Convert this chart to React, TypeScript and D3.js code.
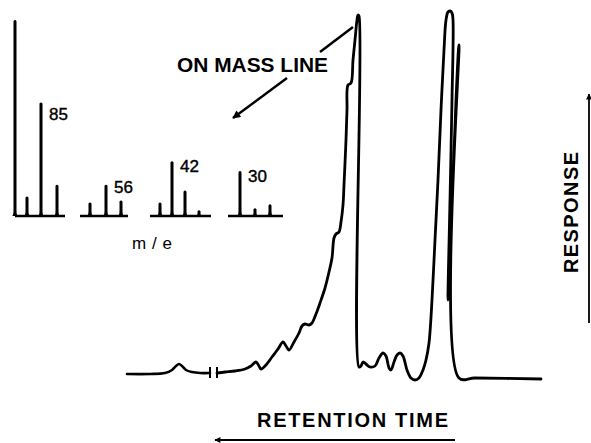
import React from 'react';
import * as d3 from 'd3';

// Chromatogram trace (arbitrary units): retention time, detector response
const traceATime = [0, 23, 38, 45, 49, 52, 55, 59, 65, 73, 83];
const traceAResp = [0, 0, 1, 4, 8, 10, 8, 4, 2, 1, 1];
const traceBTime = [90, 98, 108, 118, 124, 129, 132, 134, 139, 145, 151, 156, 159, 162, 167, 172, 175, 178, 182, 185, 189, 193, 198, 202, 205, 207, 209, 212, 214, 216, 217, 219, 220, 221, 224, 226, 228, 230, 231, 232, 232, 234, 236, 239, 243, 248, 252, 256, 259, 262, 264, 267, 270, 273, 276, 280, 284, 288, 292, 296, 299, 302, 305, 308, 311, 314, 317, 319, 321, 323, 325, 326, 325, 323, 321, 323, 326, 329, 332, 332, 348, 414];
const traceBResp = [1, 2, 3, 5, 8, 12, 8, 5, 9, 17, 25, 32, 28, 24, 32, 41, 48, 50, 49, 51, 60, 71, 86, 102, 116, 136, 140, 142, 152, 169, 189, 234, 264, 289, 291, 314, 334, 354, 359, 358, 7, 8, 12, 10, 7, 8, 16, 21, 18, 6, 4, 12, 19, 21, 18, 4, -4, -6, -4, 4, 14, 31, 74, 134, 194, 264, 324, 354, 362, 363, 361, 354, 274, 174, 74, 114, 194, 274, 329, -4, -4, -5];
const breakTimes = [83, 90];

// Mass spectra (inset): label, bar positions (m/e axis units), intensities
const spectraLabels = ['85', '56', '42', '30'];
const spectraMass = [[0, 12, 26, 42], [75, 91, 106], [145, 157, 170, 184], [225, 240, 255]];
const spectraIntensity = [[100, 10, 58, 16], [7, 16, 8], [7, 28, 13, 3], [23, 4, 6]];
const spectraSpan = [[0, 50], [65, 113], [135, 196], [213, 268]];
const labelBar = [2, 1, 1, 0];
const labelDy = [18, 8, 11, 11];

const W = 591;
const H = 443;

export default function App() {
  const x = d3.scaleLinear().domain([0, 414]).range([127, 541]);
  const y = d3.scaleLinear().domain([0, 360]).range([374, 14]);
  const line = d3
    .line<[number, number]>()
    .x((d) => x(d[0]))
    .y((d) => y(d[1]))
    .curve(d3.curveCatmullRom.alpha(0.5));
  const pathA = line(traceATime.map((t, i) => [t, traceAResp[i]]) as [number, number][]) || '';
  const pathB = line(traceBTime.map((t, i) => [t, traceBResp[i]]) as [number, number][]) || '';

  const mx = d3.scaleLinear().domain([0, 270]).range([15, 285]);
  const my = d3.scaleLinear().domain([0, 100]).range([216, 20]);

  const font = "'Liberation Sans', Arial, sans-serif";
  const ink = '#000';

  const barPath = (m: number, v: number) => {
    const cx = mx(m);
    const b = my(0);
    const t = my(v);
    const h = b - t;
    const flare = Math.min(6, h * 0.5);
    return `M${cx - 3.2},${b} Q${cx - 1.5},${b} ${cx - 1.5},${b - flare} L${cx - 1.5},${t + 1.2} Q${cx},${t - 1} ${cx + 1.5},${t + 1.2} L${cx + 1.5},${b - flare} Q${cx + 1.5},${b} ${cx + 3.2},${b} Z`;
  };

  return (
    <svg
      width={W}
      height={H}
      style={{ position: 'absolute', left: 0, top: 0, background: '#fff' }}
    >
      <defs>
        <marker id="ah" viewBox="0 0 10 10" refX="9" refY="5" markerWidth="10" markerHeight="8" markerUnits="userSpaceOnUse" orient="auto">
          <path d="M0,0 L10,5 L0,10 Z" fill={ink} />
        </marker>
        <marker id="ahs" viewBox="0 0 10 10" refX="9" refY="5" markerWidth="8" markerHeight="6" markerUnits="userSpaceOnUse" orient="auto">
          <path d="M0,0 L10,5 L0,10 Z" fill={ink} />
        </marker>
      </defs>
      <rect width={W} height={H} fill="#fff" />

      {/* Chromatogram */}
      <path d={pathA} fill="none" stroke={ink} strokeWidth={2.6} strokeLinejoin="round" strokeLinecap="round" />
      <path d={pathB} fill="none" stroke={ink} strokeWidth={2.8} strokeLinejoin="round" strokeLinecap="round" />
      {breakTimes.map((t, i) => (
        <line key={i} x1={x(t)} x2={x(t)} y1={y(-4)} y2={y(7)} stroke={ink} strokeWidth={2} />
      ))}

      {/* Mass spectra */}
      {spectraLabels.map((lab, g) => (
        <g key={lab}>
          <line
            x1={mx(spectraSpan[g][0])}
            x2={mx(spectraSpan[g][1])}
            y1={my(0)}
            y2={my(0)}
            stroke={ink}
            strokeWidth={2.4}
          />
          {spectraMass[g].map((m, i) => (
            <path key={i} d={barPath(m, spectraIntensity[g][i])} fill={ink} />
          ))}
          <text
            x={mx(spectraMass[g][labelBar[g]]) + 8}
            y={my(spectraIntensity[g][labelBar[g]]) + labelDy[g]}
            fontFamily={font}
            fontSize={17}
            fill={ink}
            stroke={ink}
            strokeWidth={0.4}
          >
            {lab}
          </text>
        </g>
      ))}
      <text x={132} y={249} fontFamily={font} fontSize={17} textLength={40} lengthAdjust="spacing" fill={ink}>
        m / e
      </text>

      {/* Annotations */}
      <text x={177} y={72} fontFamily={font} fontWeight="bold" fontSize={21} textLength={151} lengthAdjust="spacingAndGlyphs" fill={ink}>
        ON MASS LINE
      </text>
      <line x1={320} y1={52} x2={353} y2={27} stroke={ink} strokeWidth={2.5} />
      <line x1={287} y1={78} x2={233} y2={118} stroke={ink} strokeWidth={2.5} markerEnd="url(#ah)" />

      <text x={257} y={427} fontFamily={font} fontWeight="bold" fontSize={20} textLength={191} lengthAdjust="spacing" fill={ink}>
        RETENTION TIME
      </text>
      <line x1={455} y1={440} x2={215} y2={440} stroke={ink} strokeWidth={1.8} markerEnd="url(#ahs)" />

      <text
        transform="translate(578,273) rotate(-90)"
        fontFamily={font}
        fontWeight="bold"
        fontSize={20}
        textLength={121}
        lengthAdjust="spacing"
        fill={ink}
      >
        RESPONSE
      </text>
      <line x1={589} y1={323} x2={589} y2={94} stroke={ink} strokeWidth={1.8} markerEnd="url(#ahs)" />
    </svg>
  );
}
